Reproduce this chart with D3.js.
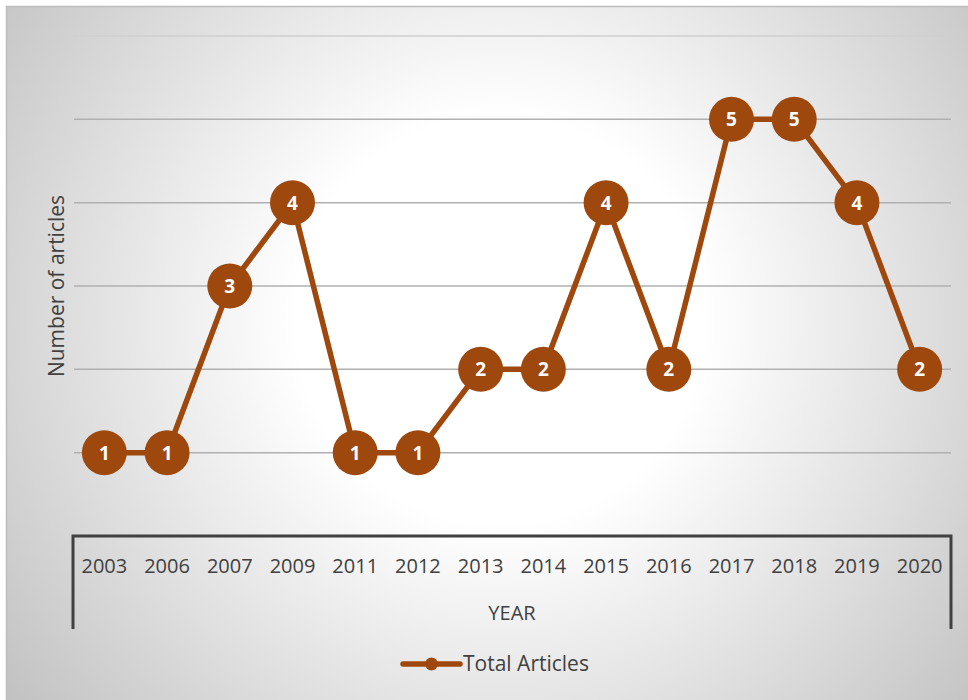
<!DOCTYPE html>
<html>
<head>
<meta charset="utf-8">
<script src="https://cdn.jsdelivr.net/npm/d3@7"></script>
<style>
  body { margin: 0; background: #fff; }
  svg { display: block; font-family: "Open Sans", "Noto Sans", sans-serif; }
</style>
</head>
<body>
<div id="chart"></div>
<script>
var years = ["2003","2006","2007","2009","2011","2012","2013","2014","2015","2016","2017","2018","2019","2020"];
var articles = [1, 1, 3, 4, 1, 1, 2, 2, 4, 2, 5, 5, 4, 2];
var gridValues = [1, 2, 3, 4, 5, 6];
var seriesName = "Total Articles";

var width = 968, height = 700;
var lineColor = "#9e480e";
var axisColor = "#404040";

var svg = d3.select("#chart").append("svg")
  .attr("width", width)
  .attr("height", height);

var defs = svg.append("defs");
var grad = defs.append("radialGradient")
  .attr("id", "bg")
  .attr("gradientUnits", "userSpaceOnUse")
  .attr("cx", 500).attr("cy", 320).attr("r", 620);
grad.append("stop").attr("offset", "0%").attr("stop-color", "#ffffff");
grad.append("stop").attr("offset", "33%").attr("stop-color", "#ffffff");
grad.append("stop").attr("offset", "100%").attr("stop-color", "#c2c2c2");

// chart area background
svg.append("rect")
  .attr("x", 6.5).attr("y", 6.5)
  .attr("width", width).attr("height", height)
  .attr("fill", "url(#bg)")
  .attr("stroke", "#bdbdbd")
  .attr("stroke-width", 1.5);

var plot = { left: 73, right: 951, top: 36, bottom: 536 };

var x = d3.scaleBand()
  .domain(years)
  .range([plot.left, plot.right]);

var y = d3.scaleLinear()
  .domain([0, 6])
  .range([plot.bottom, plot.top]);

// gridlines
svg.append("g")
  .selectAll("line")
  .data(gridValues)
  .enter().append("line")
  .attr("x1", plot.left + 1)
  .attr("x2", plot.right)
  .attr("y1", function(d) { return y(d); })
  .attr("y2", function(d) { return y(d); })
  .attr("stroke", function(d) { return d == 6 ? "#cfcfcf" : "#b0b0b0"; })
  .attr("stroke-width", 1.5);

// category axis with table-like borders
var axisG = svg.append("g");
axisG.append("path")
  .attr("d", "M" + plot.left + "," + 629 + "V" + plot.bottom + "H" + plot.right + "V" + 629)
  .attr("fill", "none")
  .attr("stroke", axisColor)
  .attr("stroke-width", 3);

axisG.selectAll("text")
  .data(years)
  .enter().append("text")
  .attr("x", function(d) { return x(d) + x.bandwidth() / 2; })
  .attr("y", 566)
  .attr("dy", "0.35em")
  .attr("text-anchor", "middle")
  .attr("fill", axisColor)
  .attr("font-size", 20)
  .text(function(d) { return d; });

svg.append("text")
  .attr("x", (plot.left + plot.right) / 2)
  .attr("y", 613)
  .attr("dy", "0.35em")
  .attr("text-anchor", "middle")
  .attr("fill", axisColor)
  .attr("font-size", 20)
  .text("YEAR");

svg.append("text")
  .attr("transform", "translate(57,286) rotate(-90)")
  .attr("dy", "0.35em")
  .attr("text-anchor", "middle")
  .attr("fill", axisColor)
  .attr("font-size", 21)
  .text("Number of articles");

// series line
var line = d3.line()
  .x(function(d, i) { return x(years[i]) + x.bandwidth() / 2; })
  .y(function(d) { return y(d); });

svg.append("path")
  .datum(articles)
  .attr("d", line)
  .attr("fill", "none")
  .attr("stroke", lineColor)
  .attr("stroke-width", 5.5)
  .attr("stroke-linejoin", "round");

var markers = svg.append("g")
  .selectAll("g")
  .data(articles)
  .enter().append("g")
  .attr("transform", function(d, i) {
    return "translate(" + (x(years[i]) + x.bandwidth() / 2) + "," + y(d) + ")";
  });

markers.append("circle")
  .attr("r", 22.5)
  .attr("fill", lineColor);

markers.append("text")
  .attr("dy", "0.36em")
  .attr("text-anchor", "middle")
  .attr("fill", "#fff")
  .attr("font-size", 19)
  .attr("font-weight", "bold")
  .text(function(d) { return d; });

// legend
var legend = svg.append("g").attr("transform", "translate(403,664)");
legend.append("line")
  .attr("x1", 0).attr("x2", 57)
  .attr("stroke", lineColor)
  .attr("stroke-width", 5.5)
  .attr("stroke-linecap", "round");
legend.append("circle")
  .attr("cx", 28.5).attr("r", 6.5)
  .attr("fill", lineColor);
legend.append("text")
  .attr("x", 60)
  .attr("dy", "0.35em")
  .attr("fill", axisColor)
  .attr("font-size", 21)
  .text(seriesName);
</script>
</body>
</html>
